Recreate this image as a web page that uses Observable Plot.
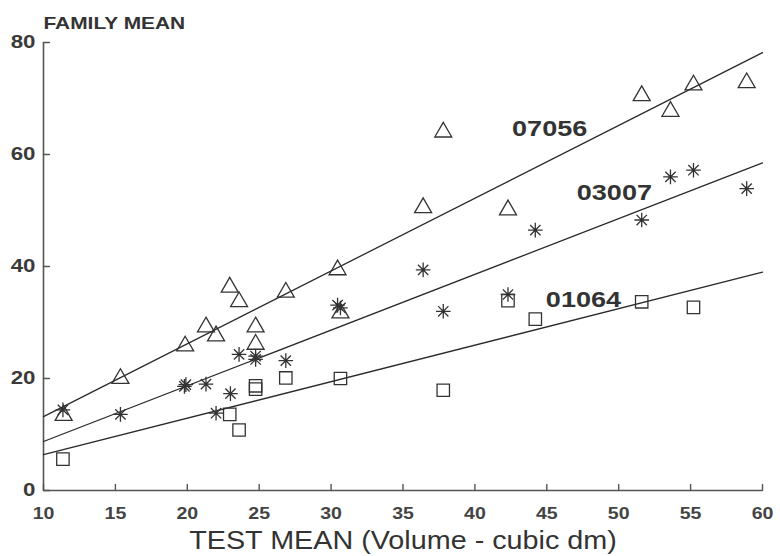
<!DOCTYPE html>
<html><head><meta charset="utf-8">
<script src="https://cdn.jsdelivr.net/npm/d3@7"></script>
<script src="https://cdn.jsdelivr.net/npm/@observablehq/plot@0.6"></script>
<style>
body{margin:0;background:#fff;}
#chart svg{display:block;}
</style>
</head><body><div id="chart"></div>
<script>
// Tick values
const xTicks = [10, 15, 20, 25, 30, 35, 40, 45, 50, 55, 60];
const yTicks = [0, 20, 40, 60, 80];

// Family 07056 (triangles)
const x07056 = [11.4, 15.35, 19.85, 21.3, 22.0, 22.95, 23.6, 24.75, 24.75, 26.85, 30.45, 30.65, 36.4, 37.8, 42.3, 51.6, 53.6, 55.2, 58.9];
const y07056 = [13.4, 20.0, 25.8, 29.2, 27.6, 36.3, 33.7, 29.2, 26.1, 35.4, 39.4, 31.7, 50.5, 64.0, 50.1, 70.5, 67.7, 72.4, 72.8];

// Family 03007 (asterisks)
const x03007 = [11.35, 15.35, 19.8, 19.9, 21.3, 22.0, 23.0, 23.6, 24.75, 24.75, 26.85, 30.45, 30.65, 36.4, 37.8, 42.3, 44.2, 51.6, 53.6, 55.2, 58.9];
const y03007 = [14.4, 13.6, 18.6, 18.9, 19.0, 13.8, 17.3, 24.3, 24.0, 23.4, 23.2, 33.1, 32.6, 39.4, 32.0, 35.0, 46.5, 48.3, 56.0, 57.2, 53.9];

// Family 01064 (squares)
const x01064 = [11.35, 22.95, 23.6, 24.75, 24.75, 26.85, 30.65, 37.8, 42.3, 44.2, 51.6, 55.2];
const y01064 = [5.6, 13.6, 10.8, 18.7, 18.1, 20.1, 20.0, 17.9, 33.9, 30.6, 33.7, 32.7];

// Fitted regression lines: y = a + b * x over the test-mean range
const lineFamilies = ["07056", "03007", "01064"];
const lineIntercepts = [0.2, -1.2, -0.12];
const lineSlopes = [1.3, 0.995, 0.652];
const lineRange = [10, 60];

// Family labels
const labelText = ["07056", "03007", "01064"];
const labelX = [45.2, 49.7, 47.55];
const labelY = [64.5, 53.2, 34.1];

// Axis titles
const yTitle = "FAMILY MEAN";
const xTitle = "TEST MEAN (Volume - cubic dm)";

const ink = "#333";
const axisInk = "#555";
const font = "'Liberation Sans', Arial, Helvetica, sans-serif";

const pts = (xs, ys) => xs.map((x, i) => ({x, y: ys[i]}));
const lines = lineFamilies.flatMap((f, i) =>
  lineRange.map(x => ({family: f, x, y: lineIntercepts[i] + lineSlopes[i] * x})));
const labels = labelText.map((t, i) => ({t, x: labelX[i], y: labelY[i]}));

// 8-ray asterisk symbol
const star8 = {
  draw(ctx, size) {
    const r = Math.sqrt(size / Math.PI);
    for (let k = 0; k < 4; k++) {
      const a = k * Math.PI / 4;
      const c = Math.cos(a) * r, s = Math.sin(a) * r;
      ctx.moveTo(-c, -s);
      ctx.lineTo(c, s);
    }
  }
};
// inward tick shapes
const tickUp = {draw(ctx, l) { ctx.moveTo(0, 0); ctx.lineTo(0, -l); }};
const tickRight = {draw(ctx, l) { ctx.moveTo(0, 0); ctx.lineTo(l, 0); }};

const chart = Plot.plot({
  width: 780,
  height: 556,
  marginLeft: 43,
  marginRight: 18,
  marginTop: 42,
  marginBottom: 66,
  style: {fontFamily: font, color: ink, background: "#fff"},
  x: {domain: [10, 60]},
  y: {domain: [0, 80]},
  marks: [
    Plot.ruleX([10], {y1: 0, y2: 80, stroke: axisInk, strokeWidth: 1.6}),
    Plot.ruleY([0], {x1: 10, x2: 60, stroke: axisInk, strokeWidth: 1.6}),
    Plot.vector(xTicks, {x: d => d, y: 0, length: 6, anchor: "start", shape: tickUp, stroke: axisInk, strokeWidth: 1.4}),
    Plot.vector(yTicks, {x: 10, y: d => d, length: 6, anchor: "start", shape: tickRight, stroke: axisInk, strokeWidth: 1.4}),
    Plot.axisX(xTicks, {tickSize: 0, tickPadding: 16, fontSize: 17, fontWeight: "bold", fill: "#444", label: null}),
    Plot.axisY(yTicks, {tickSize: 0, tickPadding: 8, fontSize: 18, fontWeight: "bold", fill: "#3a3a3a", label: null}),
    Plot.line(lines, {x: "x", y: "y", z: "family", stroke: "#2a2a2a", strokeWidth: 1.3}),
    Plot.dot(pts(x07056, y07056), {x: "x", y: "y", symbol: "triangle", r: 6.3, stroke: ink, strokeWidth: 1.3}),
    Plot.dot(pts(x03007, y03007), {x: "x", y: "y", symbol: star8, r: 7.3, stroke: ink, strokeWidth: 1.3}),
    Plot.dot(pts(x01064, y01064), {x: "x", y: "y", symbol: "square", r: 7.0, stroke: ink, strokeWidth: 1.3}),
    Plot.text(labels, {x: "x", y: "y", text: "t", fontSize: 22, fontWeight: "bold", fill: ink}),
    Plot.text([yTitle], {frameAnchor: "top-left", dy: -26, textAnchor: "start", fontSize: 17, fontWeight: "bold", fill: ink}),
    Plot.text([xTitle], {frameAnchor: "bottom", dy: 58, fontSize: 25, fill: ink})
  ]
});
document.getElementById("chart").append(chart);

// The reference's lettering is wide: stretch texts horizontally about their anchors
d3.select(chart).selectAll("text").each(function() {
  const txt = this.textContent;
  const fsEl = this.closest("[font-size]");
  const fs = fsEl ? +fsEl.getAttribute("font-size") : 0;
  let k = 1.15;
  if (txt === xTitle) k = 1.15;
  else if (txt === yTitle) k = 1.23;
  else if (labelText.includes(txt)) k = 1.23;
  else if (fs === 18) k = 1.24;
  const t = this.getAttribute("transform") || "";
  this.setAttribute("transform", (t + ` scale(${k},1)`).trim());
});
</script>
</body></html>
